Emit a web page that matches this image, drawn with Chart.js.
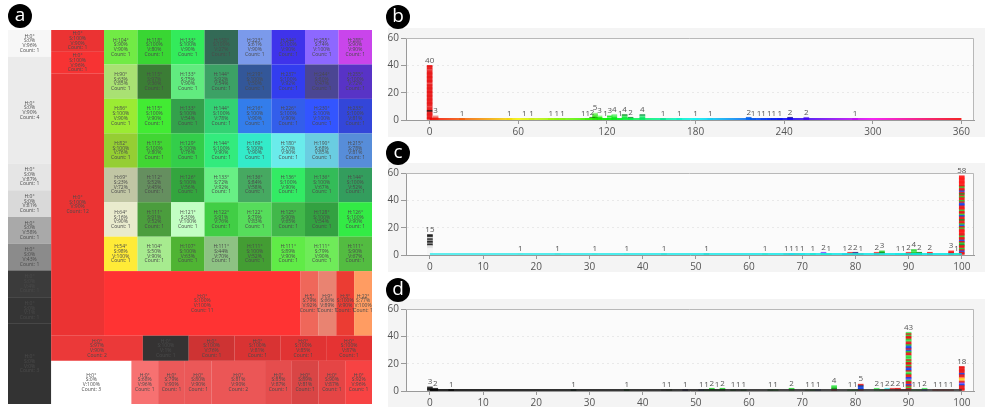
<!DOCTYPE html>
<html lang="en">
<head>
<meta charset="UTF-8" />
<title>Colour summary</title>
<script src="https://cdn.jsdelivr.net/npm/chart.js"></script>
<style>
  body { margin: 0; background: #fff; font-family: "Open Sans", Arial, sans-serif; overflow: hidden; }
  #wrap { position: relative; width: 993px; height: 407px; overflow: hidden; }
  canvas { position: absolute; }
  .tag { position: absolute; width: 24px; height: 24px; border-radius: 50%; background: #000; color: #fff;
         font-size: 19px; line-height: 21px; text-align: center; }
</style>
</head>
<body>
<div id="wrap">
  <canvas id="treemap" width="380" height="407" style="left:0;top:0"></canvas>
  <canvas id="hueChart" width="613" height="140" style="left:380px;top:0"></canvas>
  <canvas id="satChart" width="613" height="140" style="left:380px;top:135px"></canvas>
  <canvas id="valChart" width="613" height="140" style="left:380px;top:271px"></canvas>
  <div class="tag" style="left:8px;top:4px">a</div>
  <div class="tag" style="left:386px;top:5px">b</div>
  <div class="tag" style="left:386px;top:141px">c</div>
  <div class="tag" style="left:386px;top:278px">d</div>
</div>

<script>
  // treemap cells: [hue, saturation, value, count]
  const grayCells = [[0,0,96,1],[0,0,90,4],[0,0,87,1],[0,0,81,1],[0,0,58,1],[0,0,43,1],[0,0,4,1],[0,0,1,1],[0,0,0,3]];
  const redColumn = [[0,100,90,1],[0,100,96,1],[0,100,90,12]];
  const gridRows = [
    [[104,90,90,1],[118,100,80,1],[133,100,90,1],[158,100,27,1],[223,61,90,1],[244,100,90,1],[255,74,100,1],[288,90,90,1]],
    [[90,63,85,1],[115,97,36,1],[133,75,90,1],[144,92,54,1],[219,100,50,1],[237,100,92,1],[244,80,47,1],[255,100,72,1]],
    [[86,100,90,1],[115,100,90,1],[133,100,54,1],[144,100,78,1],[216,100,90,1],[226,100,90,1],[230,100,100,1],[233,100,81,1]],
    [[82,100,76,1],[115,100,80,1],[129,100,76,1],[144,100,90,1],[169,100,90,1],[180,70,90,1],[190,68,85,1],[215,78,81,1]],
    [[69,23,72,1],[112,52,45,1],[126,100,56,1],[133,72,92,1],[136,84,58,1],[136,100,90,1],[136,100,67,1],[144,100,52,1]],
    [[64,16,90,1],[111,91,52,1],[121,30,100,1],[122,91,76,1],[122,79,83,1],[125,90,65,1],[128,100,54,1],[126,100,90,1]],
    [[54,98,100,1],[104,50,90,1],[107,100,63,1],[111,44,70,1],[111,100,52,1],[111,89,90,1],[111,79,90,1],[111,90,67,1]]
  ];
  const redBlock = [[0,100,100,11],[5,79,92,1],[9,66,89,1],[3,100,90,1],[22,77,100,1]];
  const redRow = [[0,97,90,2],[0,100,1,1],[0,100,76,1],[0,100,81,1],[0,100,85,1],[0,100,87,1]];
  const bottomRow = [[0,0,100,3],[0,68,96,1],[0,79,90,1],[0,80,90,1],[0,81,90,2],[0,85,87,1],[0,89,81,1],[0,90,87,1],[0,92,96,1]];

  // hue histogram (b)
  const hueBins = [0,4,22,54,64,69,82,86,90,104,107,110,112,115,119,122,125,129,132,136,144,158,169,180,190,216,219,223,226,230,233,237,244,255,288];
  const hueCounts = [40,3,1,1,1,1,1,1,1,1,1,2,5,3,1,3,4,1,4,2,4,1,1,1,1,2,1,1,1,1,1,1,2,2,1];
  const hueColors = ['aaaaaakaap' + 'aaaaaaaaaa' + 'aaaaaapaaa' + 'aaaaaapaaa', 'ppl', 'a', 'a', 'w', 'g', 'a', 'a', 'p', 'l',
    'a', 'pd', 'ddapl', 'dal', 'a', 'pla', 'dapl', 'a', 'lapd', 'ad',
    'dapd', 'D', 'a', 'l', 'l', 'aa', 'd', 'l', 'a', 'a',
    'a', 'a', 'ad', 'ap', 'a'];
  const hueTicks = [0,60,120,180,240,300,360];

  // saturation histogram (c)
  const satBins = [0,17,24,31,37,44,52,63,67,68,69,70,72,74,75,78,79,80,81,84,85,88,89,90,91,92,94,98,99,100];
  const satCounts = [15,1,1,1,1,1,1,1,1,1,1,1,1,2,1,1,2,2,1,2,3,1,1,2,4,2,2,3,1,58];
  const satColors = ['WWWWWwwkKkKkwkk','L','O','P','P','E','F','l','q','B',
    'q','C','G','Gv','G','B','qp','pV','p','pp',
    'odg','C','G','rp','dgGg','gd','pR','rrR','y',
    'rrbrgrrdgr' + 'brrgrrRRrg' + 'rbgrrdrrbg' + 'rrgRrrbbrg' + 'rrgrdrbrrg' + 'rRRRRRRR'];

  // value histogram (d)
  const valBins = [0,1,4,27,37,44,45,48,51,52,53,54,55,57,58,59,64,65,68,71,72,73,76,79,80,81,84,85,86,87,88,89,90,91,92,93,95,96,97,98,100];
  const valCounts = [3,2,1,1,1,1,1,1,1,1,2,1,2,1,1,1,1,1,2,1,1,1,4,1,1,5,2,1,2,2,2,1,43,1,1,2,1,1,1,1,18];
  const valColors = ['kkk','kk','k','D','d','K','F','V','n','d',
    'dg','d','dg','d','K','d','d','g','gg','E',
    'd','n','rdgG','g','g','rbbnr','GG','g','pC','qp',
    'pr','r','rrgrbrrgvb' + 'rrgGrbbrgr' + 'rgrGgGrrgb' + 'rbbgrrGgrr' + 'grG','G','g','bG','r','r','r','r',
    'rrrrbvroyorrbrrrrr'];
  const pctTicks = [0,10,20,30,40,50,60,70,80,90,100];

  const FONT = '"Open Sans", Arial, sans-serif';

  function hsv(h, s, v, a = 0.8) {
    s /= 100; v /= 100;
    const f = n => { const k = (n + h / 60) % 6; return v - v * s * Math.max(0, Math.min(k, 4 - k, 1)); };
    return `rgba(${Math.round(f(5) * 255)},${Math.round(f(3) * 255)},${Math.round(f(1) * 255)},${a})`;
  }

  const palette = {
    W: [0,0,96], w: [0,0,86], K: [0,0,50], k: [0,0,2],
    r: [0,100,90], R: [0,100,100], p: [0,82,90], q: [5,68,92],
    g: [122,91,80], G: [128,75,92], d: [126,100,55], D: [158,100,27],
    l: [90,63,85], L: [64,16,90], O: [69,23,72], P: [121,30,100], E: [111,44,70], F: [112,52,45],
    y: [54,98,100], o: [22,77,100], C: [180,70,90], c: [169,100,90],
    b: [226,100,90], B: [215,78,81], n: [219,100,50], v: [255,74,100], V: [244,80,47], m: [288,90,90]
  };
  const paletteColor = code => hsv(...(palette[code] || palette.r));
  const shadeColor = (code, h) => {
    const sv = { a: [100,90], p: [75,92], l: [55,95], d: [100,55], D: [100,27], w: [16,90], g: [23,72] };
    if (code === 'k') return hsv(0, 0, 2);
    return hsv(h, ...(sv[code] || sv.a));
  };

  // ---------- treemap (a) ----------
  const tree = ['h', [
    ['v', grayCells],
    ['v', [
      ['h', [['v', redColumn], ['v', [...gridRows.map(r => ['h', r]), ['h', redBlock]]]]],
      ['h', redRow],
      ['h', bottomRow]
    ]]
  ]];

  function total(n) {
    return typeof n[0] === 'number' ? n[3] : n[1].reduce((s, k) => s + total(k), 0);
  }
  function place(n, x0, y0, x1, y1, out) {
    if (typeof n[0] === 'number') { out.push({ c: n, x0, y0, x1, y1 }); return; }
    const t = total(n);
    let p = n[0] === 'h' ? x0 : y0;
    n[1].forEach(k => {
      const d = ((n[0] === 'h' ? x1 - x0 : y1 - y0) * total(k)) / t;
      if (n[0] === 'h') place(k, p, y0, p + d, y1, out);
      else place(k, x0, p, x1, p + d, out);
      p += d;
    });
  }

  const treemapPlugin = {
    id: 'treemapCells',
    afterDraw(chart) {
      const { ctx, scales: { x, y } } = chart;
      const cells = [];
      place(tree, 0, 0, 1, 1, cells);
      ctx.save();
      cells.forEach(r => {
        const px0 = x.getPixelForValue(r.x0), px1 = x.getPixelForValue(r.x1);
        const py0 = y.getPixelForValue(r.y0), py1 = y.getPixelForValue(r.y1);
        ctx.fillStyle = hsv(r.c[0], r.c[1], r.c[2]);
        ctx.fillRect(px0, py0, px1 - px0, py1 - py0);
      });
      ctx.font = '5px ' + FONT;
      ctx.fillStyle = '#4a4a4a';
      ctx.textAlign = 'center';
      ctx.textBaseline = 'middle';
      cells.forEach(r => {
        const cx = (x.getPixelForValue(r.x0) + x.getPixelForValue(r.x1)) / 2;
        const cy = (y.getPixelForValue(r.y0) + y.getPixelForValue(r.y1)) / 2;
        const lines = [`H:${r.c[0]}°`, `S:${r.c[1]}%`, `V:${r.c[2]}%`, `Count: ${r.c[3]}`];
        lines.forEach((t, i) => ctx.fillText(t, cx, cy + (i - 1.5) * 4.7));
      });
      ctx.restore();
    }
  };

  new Chart(document.getElementById('treemap'), {
    type: 'scatter',
    data: { datasets: [] },
    options: {
      responsive: false, animation: false, events: [],
      layout: { padding: { left: 8, right: 8, top: 30, bottom: 3 } },
      plugins: { legend: { display: false }, tooltip: { enabled: false } },
      scales: {
        x: { type: 'linear', min: 0, max: 1, display: false },
        y: { type: 'linear', min: 0, max: 1, reverse: true, display: false }
      }
    },
    plugins: [treemapPlugin]
  });

  // ---------- histograms (b, c, d) ----------
  function histogram(id, bins, counts, codes, paint, range, ticks, stops, barW) {
    const datasets = [];
    const depth = Math.max(...counts);
    for (let k = 0; k < depth; k++) {
      const pts = [];
      bins.forEach((b, i) => {
        if (counts[i] > k) pts.push({ x: b, y: 1, c: paint(codes[i][k] || codes[i][0], b) });
      });
      datasets.push({ type: 'bar', data: pts, backgroundColor: pts.map(p => p.c),
        barThickness: barW, stack: 'h', borderWidth: 0 });
    }
    datasets.push({
      type: 'line', order: -1,
      data: [{ x: ticks[0], y: 0 }, { x: ticks[ticks.length - 1], y: 0 }],
      borderWidth: 4, pointRadius: 0,
      borderColor: c => {
        const ch = c.chart;
        if (!ch.chartArea) return stops[0];
        const x0 = ch.scales.x.getPixelForValue(ticks[0]);
        const x1 = ch.scales.x.getPixelForValue(ticks[ticks.length - 1]);
        const g = ch.ctx.createLinearGradient(x0, 0, x1, 0);
        stops.forEach((s, i) => g.addColorStop(i / (stops.length - 1), s));
        return g;
      }
    });

    const frame = {
      id: 'frame',
      beforeDraw(chart) {
        const { ctx, chartArea: a } = chart;
        ctx.save();
        ctx.fillStyle = '#f4f4f4';
        ctx.fillRect(8, 28, 597, 109);
        ctx.fillStyle = '#fbfbfb';
        ctx.fillRect(a.left, a.top, a.right - a.left, a.bottom - a.top);
        ctx.restore();
      },
      afterDatasetsDraw(chart) {
        const { ctx, chartArea: a, scales: { x, y } } = chart;
        ctx.save();
        ctx.strokeStyle = '#b8b8b8';
        ctx.lineWidth = 1;
        ctx.beginPath();
        ctx.moveTo(a.left, a.top + 0.5);
        ctx.lineTo(a.right - 0.5, a.top + 0.5);
        ctx.lineTo(a.right - 0.5, a.bottom);
        ctx.stroke();
        ctx.font = '8px ' + FONT;
        ctx.fillStyle = '#555';
        ctx.textAlign = 'center';
        ctx.textBaseline = 'bottom';
        bins.forEach((b, i) => ctx.fillText(counts[i], x.getPixelForValue(b), y.getPixelForValue(counts[i]) - 1));
        ctx.restore();
      }
    };

    new Chart(document.getElementById(id), {
      data: { datasets },
      options: {
        responsive: false, animation: false, events: [],
        layout: { padding: { top: 38, right: 19, left: 0, bottom: 4 } },
        plugins: { legend: { display: false }, tooltip: { enabled: false } },
        scales: {
          x: {
            type: 'linear', min: range[0], max: range[1], offset: false,
            afterBuildTicks: s => { s.ticks = ticks.map(v => ({ value: v })); },
            afterFit: s => { s.height = 16; },
            grid: { drawOnChartArea: false, offset: false, tickLength: 4, color: '#999' },
            border: { color: '#999' },
            ticks: { font: { size: 10, family: FONT }, color: '#555', padding: 2, maxRotation: 0, autoSkip: false }
          },
          y: {
            min: 0, max: 60, stacked: true,
            afterFit: s => { s.width = 26; },
            ticks: { stepSize: 10, font: { size: 10, family: FONT }, color: '#555', padding: 2 },
            grid: { color: 'rgba(0,0,0,0.07)', tickColor: '#999', tickLength: 5 },
            border: { color: '#999', dash: [2, 3] }
          }
        }
      },
      plugins: [frame]
    });
  }

  const rainbow = [0, 60, 120, 180, 240, 300, 360].map(h => hsv(h, 100, 95, 0.85));
  histogram('hueChart', hueBins, hueCounts, hueColors, shadeColor, [-16, 368.5], hueTicks, rainbow, 5);
  histogram('satChart', satBins, satCounts, satColors, paletteColor, [-4.5, 102.3], pctTicks,
    [hsv(180, 70, 92, 0.85), hsv(180, 100, 90, 0.85)], 5);
  histogram('valChart', valBins, valCounts, valColors, paletteColor, [-4.5, 102.3], pctTicks,
    [hsv(0, 0, 0, 0.85), hsv(0, 0, 22, 0.85)], 5);
</script>
</body>
</html>
